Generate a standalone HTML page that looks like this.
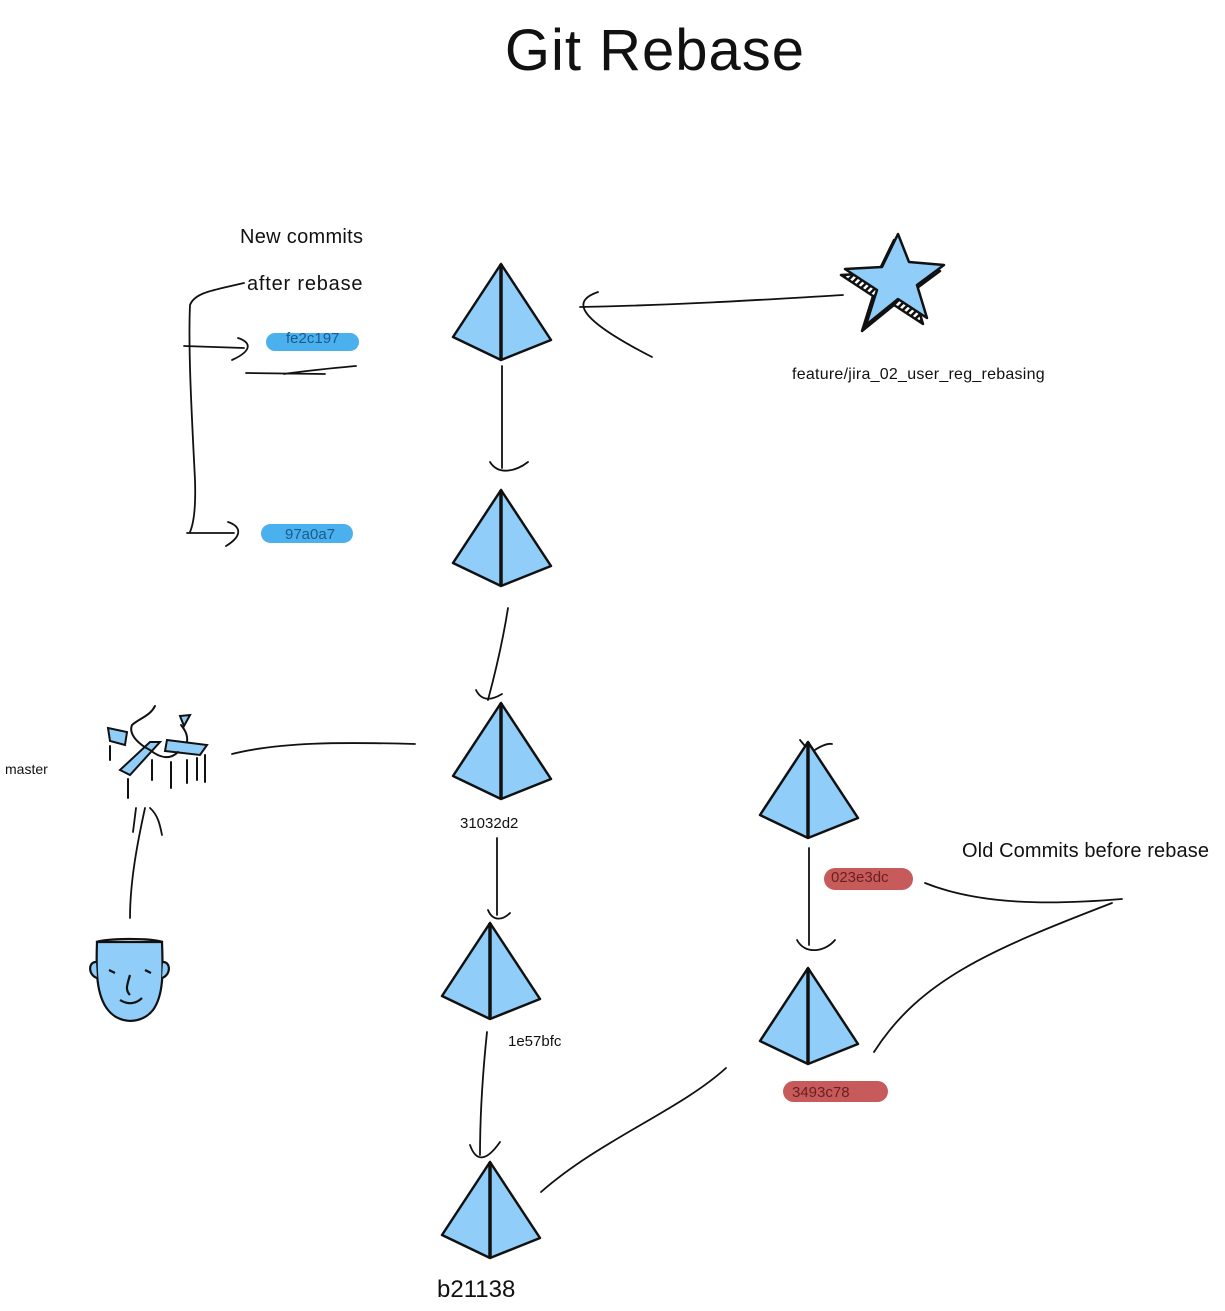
<!DOCTYPE html>
<html><head><meta charset="utf-8"><style>
html,body{margin:0;padding:0;background:#fff;}
svg{display:block;font-family:"Liberation Sans",sans-serif;}
</style></head><body>
<svg width="1225" height="1311" viewBox="0 0 1225 1311" xmlns="http://www.w3.org/2000/svg">
<defs>
<g id="pyr">
<path d="M0 0 L-48 73 L0 96 L50 76 Z" fill="#90cdf9" stroke="#111" stroke-width="2.5" stroke-linejoin="round"/>
<path d="M0 0 L0 96" stroke="#111" stroke-width="3.5"/>
</g>
<pattern id="hatch" width="5" height="5" patternUnits="userSpaceOnUse" patternTransform="rotate(45)">
<rect width="5" height="5" fill="#fff"/><rect width="2.5" height="5" fill="#111"/>
</pattern>
<path id="star" d="M898 234 L909 262 L944 265 L917 285 L927 318 L898 299 L866 325 L877 290 L845 269 L882 267 Z"/>
</defs>
<text x="655" y="70" font-size="58" text-anchor="middle" fill="#111" letter-spacing="1">Git Rebase</text>

<g fill="none" stroke="#111" stroke-width="1.8" stroke-linecap="round">
<path d="M843 295 C760 300 680 305 580 307"/>
<path d="M598 292 C575 300 570 315 652 357"/>
<path d="M502 366 L502 468"/>
<path d="M490 462 C498 475 515 472 528 462"/>
<path d="M508 608 C503 640 496 670 488 700"/>
<path d="M476 690 C482 702 492 700 502 694"/>
<path d="M415 744 C340 742 280 742 232 754"/>
<path d="M497 838 L497 915"/>
<path d="M488 910 C493 922 503 920 510 913"/>
<path d="M487 1032 C482 1080 480 1120 480 1155"/>
<path d="M470 1145 C476 1162 486 1162 500 1142"/>
<path d="M541 1192 C600 1140 680 1110 726 1068"/>
<path d="M809 848 L809 945"/>
<path d="M797 940 C805 955 825 952 835 940"/>
<path d="M800 740 C805 746 808 750 812 752 M812 752 C820 746 828 743 832 744"/>
<path d="M925 883 C980 905 1050 905 1122 899"/>
<path d="M1112 903 C990 950 920 980 874 1052"/>
<path d="M244 283 C215 290 195 292 190 305 C188 350 192 420 195 480 C196 510 193 525 190 532"/>
<path d="M184 346 L244 348 M238 338 C250 342 254 350 232 360"/>
<path d="M187 533 L234 533 M228 522 C240 526 244 535 226 546"/>
<path d="M246 373 L325 374 M284 374 C310 370 335 368 356 366"/>
<path d="M130 918 C130 880 138 840 145 808"/>
<path d="M136 808 L133 832 M150 808 C158 815 160 825 162 835"/>
</g>

<use href="#pyr" x="501" y="264"/>
<use href="#pyr" x="501" y="490"/>
<use href="#pyr" x="501" y="703"/>
<use href="#pyr" x="490" y="923"/>
<use href="#pyr" x="490" y="1162"/>
<use href="#pyr" x="808" y="742"/>
<use href="#pyr" x="808" y="968"/>

<g stroke="#111" stroke-width="2.5" stroke-linejoin="round">
<use href="#star" x="-4" y="6" fill="url(#hatch)"/>
<use href="#star" fill="#90cdf9"/>
</g>

<rect x="266" y="333" width="93" height="18" rx="9" fill="#4ab0ee"/>
<rect x="261" y="524" width="92" height="19" rx="9.5" fill="#4ab0ee"/>
<rect x="824" y="868" width="89" height="22" rx="11" fill="#c75b5b"/>
<rect x="783" y="1081" width="105" height="21" rx="10.5" fill="#c75b5b"/>

<g fill="#111">
<text x="240" y="243" font-size="20" letter-spacing="0.3">New commits</text>
<text x="247" y="290" font-size="20" letter-spacing="0.8">after rebase</text>
<text x="286" y="343" font-size="15" fill="#1d5a8a">fe2c197</text>
<text x="285" y="539" font-size="15" fill="#1d5a8a">97a0a7</text>
<text x="792" y="379" font-size="16" letter-spacing="0.25">feature/jira_02_user_reg_rebasing</text>
<text x="5" y="774" font-size="14">master</text>
<text x="460" y="828" font-size="15">31032d2</text>
<text x="508" y="1046" font-size="15">1e57bfc</text>
<text x="437" y="1297" font-size="24">b21138</text>
<text x="962" y="857" font-size="20" letter-spacing="0.1">Old Commits before rebase</text>
<text x="831" y="882" font-size="15" fill="#6a1f1f">023e3dc</text>
<text x="792" y="1097" font-size="15" fill="#6a1f1f">3493c78</text>
</g>

<g stroke="#111" stroke-width="2" fill="none" stroke-linecap="round">
<path d="M108 728 L127 732 L125 745 L110 741 Z" fill="#90cdf9"/>
<path d="M120 770 L150 742 L160 742 L130 775 Z" fill="#90cdf9"/>
<path d="M167 740 L207 745 L200 755 L165 751 Z" fill="#90cdf9"/>
<path d="M180 716 L190 715 L184 726 Z" fill="#90cdf9"/>
<path d="M155 706 C150 716 140 718 132 725 C128 735 140 745 150 750 C160 758 170 760 178 752"/>
<path d="M181 725 C185 730 188 735 187 742"/>
<path d="M110 746 L110 760 M128 779 L128 798 M152 760 L152 780 M171 762 L171 788 M187 760 L187 783 M197 758 L197 780 M205 755 L205 782"/>
</g>
<g stroke="#111" stroke-width="2.2">
<path d="M97 942 C96 970 96 995 108 1010 C120 1025 142 1024 153 1010 C164 995 163 970 162 942 Z" fill="#90cdf9"/>
<path d="M96 942 C110 938 150 938 163 942" fill="none"/>
<path d="M96 962 C88 962 88 975 97 978 M163 962 C171 962 171 975 162 978" fill="#90cdf9"/>
<path d="M130 975 C127 985 125 990 130 995 M120 1000 C128 1005 136 1004 142 998 M109 970 L115 973 M145 970 L151 973" fill="none"/>
</g>
</svg>
</body></html>
